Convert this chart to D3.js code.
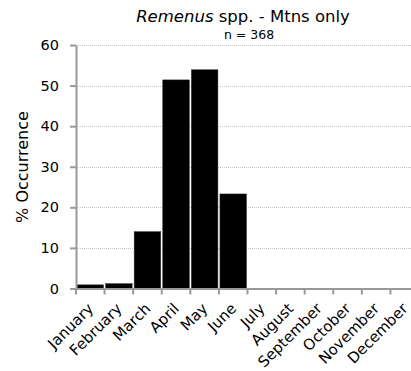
<!DOCTYPE html>
<html><head><meta charset="utf-8">
<script src="https://cdn.jsdelivr.net/npm/d3@7"></script>
<style>body{margin:0;background:#fff;} svg{display:block;}</style>
</head><body>
<svg id="c" width="411" height="371"></svg>
<script>
const months = ["January","February","March","April","May","June","July","August","September","October","November","December"];
const values = [0.9, 1.2, 14.0, 51.4, 53.9, 23.3, 0, 0, 0, 0, 0, 0];
const yTicks = [0, 10, 20, 30, 40, 50, 60];
const titleItalic = "Remenus";
const titleRest = " spp. - Mtns only";
const subtitle = "n = 368";
const yLabel = "% Occurrence";

const svg = d3.select("#c");
const font = "DejaVu Sans, Verdana, sans-serif";
const x = d3.scaleBand().domain(months).range([76, 419]).paddingInner(0).paddingOuter(0);
const y = d3.scaleLinear().domain([0, 60]).range([288.5, 45]);

// grid
svg.append("g").selectAll("line").data(yTicks.filter(d => d > 0)).join("line")
  .attr("x1", 76).attr("x2", 411).attr("y1", d => Math.round(y(d)) + 0.5).attr("y2", d => Math.round(y(d)) + 0.5)
  .attr("stroke", "#c4c4c4").attr("stroke-width", 1).attr("stroke-dasharray", "1,1");

// bars
svg.append("g").selectAll("rect").data(months.map((m, i) => ({m, v: values[i]})).filter(d => d.v > 0)).join("rect")
  .attr("x", d => x(d.m) + 1).attr("width", x.bandwidth() - 2)
  .attr("y", d => y(d.v)).attr("height", d => y(0) - y(d.v))
  .attr("fill", "#000").attr("stroke", "#333").attr("stroke-width", 0.5);

// y axis
const ya = svg.append("g").attr("transform", "translate(76,0)")
  .call(d3.axisLeft(y).tickValues(yTicks).tickSize(6).tickPadding(11).tickSizeOuter(0));
ya.select(".domain").attr("stroke", "#999").attr("stroke-width", 2);
ya.selectAll(".tick line").attr("stroke", "#999").attr("stroke-width", 2);
ya.selectAll("text").attr("font-family", font).attr("font-size", 14.5).attr("fill", "#000");

// x axis
const xa = svg.append("g").attr("transform", `translate(0,${y(0)})`)
  .call(d3.axisBottom(x).tickSize(0).tickFormat(""));
xa.select(".domain").attr("stroke", "#999").attr("stroke-width", 2);
xa.selectAll(".tick").remove();
svg.append("g").selectAll("line").data(months).join("line")
  .attr("x1", d => x(d)).attr("x2", d => x(d))
  .attr("y1", y(0)).attr("y2", y(0) + 6)
  .attr("stroke", "#999").attr("stroke-width", 2);
svg.append("g").selectAll("text").data(months).join("text")
  .attr("transform", d => `translate(${x(d) + x.bandwidth() / 2 + 4},${y(0) + 21}) rotate(-45)`)
  .attr("text-anchor", "end").attr("font-family", font).attr("font-size", 15).attr("fill", "#000")
  .text(d => d);

// title
const t = svg.append("text").attr("x", 243).attr("y", 22).attr("text-anchor", "middle")
  .attr("font-family", font).attr("font-size", 16.5).attr("fill", "#000");
t.append("tspan").attr("font-style", "italic").text(titleItalic);
t.append("tspan").text(titleRest);
svg.append("text").attr("x", 249).attr("y", 39).attr("text-anchor", "middle")
  .attr("font-family", font).attr("font-size", 12.5).attr("fill", "#000").text(subtitle);

// y label
svg.append("text").attr("transform", `translate(28,167) rotate(-90)`).attr("text-anchor", "middle")
  .attr("font-family", font).attr("font-size", 16).attr("fill", "#000").text(yLabel);
</script>
</body></html>
